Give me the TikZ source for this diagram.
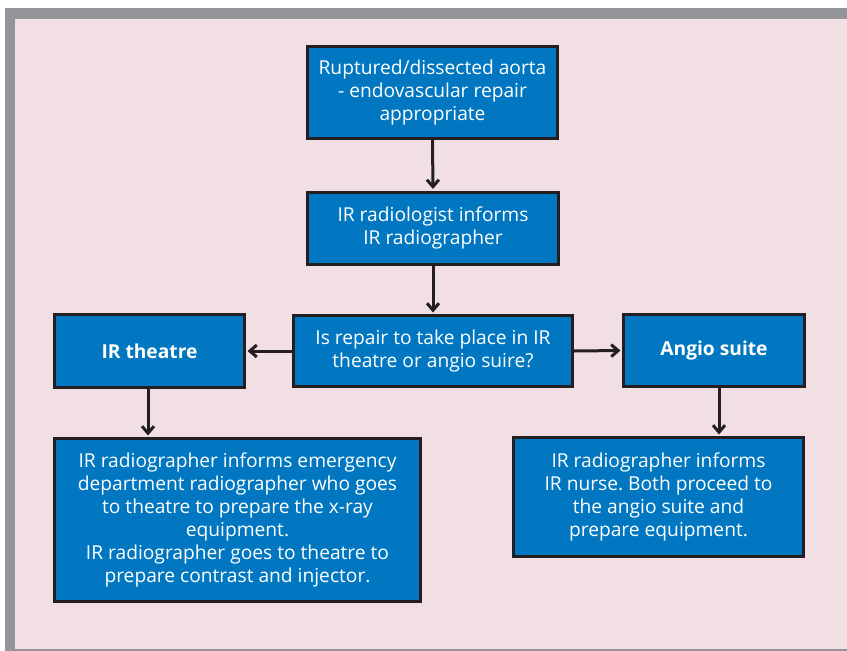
\documentclass[tikz,border=0pt]{standalone}
\usepackage{fontspec}
\setmainfont{Open Sans}
\usetikzlibrary{arrows.meta}
\definecolor{bordergray}{HTML}{939598}
\definecolor{bgpink}{HTML}{F2DFE3}
\definecolor{boxblue}{HTML}{0077C0}
\definecolor{boxline}{HTML}{231F20}
\tikzset{
  flowbox/.style={draw=boxline, line width=3pt, fill=boxblue, text=white,
    align=center, inner sep=0pt, font=\fontsize{19.2}{23}\selectfont\frenchspacing},
  boldbox/.style={flowbox, font=\fontsize{19.2}{23}\selectfont\bfseries},
  flowarrow/.style={draw=boxline, line width=3pt, shorten >=1.5pt,
    -{Straight Barb[length=7pt,width=12pt,line width=3pt]}}
}
\begin{document}
\begin{tikzpicture}[x=1pt,y=-1pt]
\useasboundingbox (0,0) rectangle (847,651);
\fill[white] (0,0) rectangle (847,651);
\fill[bordergray] (5,8) rectangle (847,651);
\fill[bgpink] (15,18.5) rectangle (847,648.5);

\node[flowbox, minimum width=250pt, minimum height=92pt] (b1) at (432.5,92.5)
  {Ruptured/dissected aorta\\- endovascular repair\\appropriate};
\node[flowbox, minimum width=251pt, minimum height=72pt] (b2) at (433,228)
  {IR radiologist informs\\IR radiographer};
\node[flowbox, minimum width=279pt, minimum height=71pt] (b3) at (433,351)
  {Is repair to take place in IR\\theatre or angio suire?};
\node[boldbox, minimum width=190pt, minimum height=73pt] (irt) at (149.5,351)
  {IR theatre};
\node[boldbox, minimum width=181pt, minimum height=72pt] (ang) at (714,350.5)
  {Angio suite};
\node[flowbox, minimum width=366pt, minimum height=163pt] (lb) at (237.5,520)
  {IR radiographer informs emergency\\department radiographer who goes\\to theatre to prepare the x-ray\\equipment.\\IR radiographer goes to theatre to\\prepare contrast and injector.};
\node[flowbox, minimum width=290pt, minimum height=119pt] (rb) at (658.5,497)
  {IR radiographer informs\\IR nurse. Both proceed to\\the angio suite and\\prepare equipment.};

\draw[flowarrow] (b1.south) -- (b2.north);
\draw[flowarrow] (b2.south) -- (b3.north);
\draw[flowarrow] (b3.west) -- (irt.east);
\draw[flowarrow] (b3.east) -- (ang.west);
\draw[flowarrow] ([xshift=-1.5pt]irt.south) -- ([xshift=-1.5pt]irt.south |- lb.north);
\draw[flowarrow] ([xshift=5pt]ang.south) -- ([xshift=5pt]ang.south |- rb.north);
\end{tikzpicture}
\end{document}
